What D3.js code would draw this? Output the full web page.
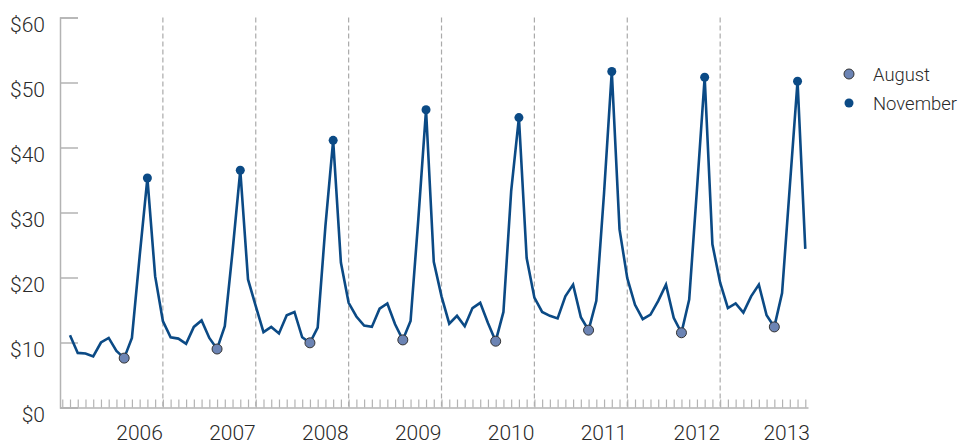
<!DOCTYPE html>
<html>
<head>
<meta charset="utf-8">
<script src="https://cdn.jsdelivr.net/npm/d3@7"></script>
<style>
  body { margin: 0; background: #fff; }
  svg text { font-family: Roboto, "Liberation Sans", sans-serif; fill: #2a2a2a; }
</style>
</head>
<body>
<div id="container"></div>
<script>
/* CONSTANTS AND GLOBALS */
const width = 961,
  height = 444;

// monthly values, Jan of first year .. Dec of last year
const monthlyPrice = [
  11.1, 8.4, 8.3, 7.85, 10.0, 10.7, 8.7, 7.6, 10.7, 23.3, 35.3, 20.2,
  13.3, 10.8, 10.6, 9.8, 12.4, 13.4, 10.7, 9.0, 12.5, 24.0, 36.5, 19.7,
  15.6, 11.6, 12.4, 11.4, 14.2, 14.7, 10.8, 9.95, 12.3, 27.9, 41.1, 22.3,
  16.1, 14.0, 12.6, 12.4, 15.2, 16.0, 12.8, 10.4, 13.3, 28.9, 45.8, 22.4,
  17.1, 12.9, 14.1, 12.5, 15.3, 16.1, 13.0, 10.2, 14.7, 33.3, 44.6, 23.0,
  16.9, 14.7, 14.1, 13.7, 17.1, 18.9, 13.9, 11.9, 16.4, 33.0, 51.7, 27.4,
  19.9, 15.8, 13.6, 14.3, 16.4, 18.9, 13.8, 11.5, 16.6, 33.5, 50.8, 25.1,
  19.2, 15.3, 16.0, 14.6, 17.1, 18.9, 14.2, 12.4, 17.6, 34.0, 50.2, 24.4
];
const yearLabels = ["2006", "2007", "2008", "2009", "2010", "2011", "2012", "2013"];
const yTicks = [0, 10, 20, 30, 40, 50, 60];
const legendItems = ["August", "November"];
const augustMonth = 7, novemberMonth = 10;

const lineColor = "#0b4a85",
  augustFill = "#6c84b4",
  axisColor = "#b3b3b3";

const data = monthlyPrice.map((v, i) => ({ i, v }));
const augustPts = data.filter(d => d.i % 12 === augustMonth);
const novemberPts = data.filter(d => d.i % 12 === novemberMonth);

const svg = d3.select("#container")
  .append("svg")
  .attr("width", width)
  .attr("height", height);

// SCALES
const xScale = d3.scaleLinear()
  .domain([-1.292, 95.35])
  .range([60, 808]);

const yScale = d3.scaleLinear()
  .domain([0, 60])
  .range([407.5, 17.5]);

// year divider lines
svg.selectAll(".divider")
  .data(d3.range(12, 96, 12))
  .join("line")
  .attr("class", "divider")
  .attr("x1", d => xScale(d))
  .attr("x2", d => xScale(d))
  .attr("y1", yScale(60))
  .attr("y2", yScale(0))
  .attr("stroke", "#aaa")
  .attr("stroke-width", 1.2)
  .attr("stroke-dasharray", "5,3");

// Y AXIS
const yAxis = d3.axisRight(yScale)
  .tickValues(yTicks)
  .tickSize(18)
  .tickFormat(d => "$" + d);

const yAxisGroup = svg.append("g")
  .attr("transform", `translate(60, 0)`)
  .call(yAxis);
yAxisGroup.select(".domain").attr("stroke", axisColor).attr("stroke-width", 1.5);
yAxisGroup.selectAll(".tick line").attr("stroke", axisColor).attr("stroke-width", 1.5);
yAxisGroup.selectAll(".tick text")
  .attr("x", -15)
  .attr("dy", "0.32em")
  .attr("y", 7)
  .attr("text-anchor", "end")
  .style("font-size", "21px")
  .style("font-weight", 300);

// X AXIS (monthly minor ticks)
const xAxis = d3.axisBottom(xScale)
  .tickValues(d3.range(-1, 96))
  .tickSizeInner(-8)
  .tickSizeOuter(0)
  .tickFormat("");

const xAxisGroup = svg.append("g")
  .attr("transform", `translate(0, ${yScale(0)})`)
  .call(xAxis);
xAxisGroup.select(".domain").attr("stroke", axisColor).attr("stroke-width", 1.5);
xAxisGroup.selectAll(".tick line").attr("stroke", axisColor).attr("stroke-width", 1.2);

svg.selectAll(".yearLabel")
  .data(yearLabels)
  .join("text")
  .attr("class", "yearLabel")
  .attr("x", (d, k) => Math.min(xScale(12 * (k + 1)), 810))
  .attr("y", 440)
  .attr("text-anchor", "end")
  .style("font-size", "21px")
  .style("font-weight", 300)
  .text(d => d);

// LINE
const lineGen = d3.line()
  .x(d => xScale(d.i))
  .y(d => yScale(d.v));

svg.append("path")
  .datum(data)
  .attr("fill", "none")
  .attr("stroke", lineColor)
  .attr("stroke-width", 2.6)
  .attr("stroke-linejoin", "miter")
  .attr("d", lineGen);

// MARKERS
svg.selectAll(".aug")
  .data(augustPts)
  .join("circle")
  .attr("class", "aug")
  .attr("cx", d => xScale(d.i))
  .attr("cy", d => yScale(d.v))
  .attr("r", 5)
  .attr("fill", augustFill)
  .attr("stroke", "#333")
  .attr("stroke-width", 1);

svg.selectAll(".nov")
  .data(novemberPts)
  .join("circle")
  .attr("class", "nov")
  .attr("cx", d => xScale(d.i))
  .attr("cy", d => yScale(d.v))
  .attr("r", 4.5)
  .attr("fill", lineColor);

// LEGEND
const legend = svg.selectAll(".legend")
  .data(legendItems)
  .join("g")
  .attr("class", "legend")
  .attr("transform", (d, k) => `translate(849, ${74 + k * 29})`);

legend.append("circle")
  .attr("r", d => d === "August" ? 5 : 4.5)
  .attr("fill", d => d === "August" ? augustFill : lineColor)
  .attr("stroke", d => d === "August" ? "#333" : "none")
  .attr("stroke-width", 1);

// reference font is condensed, so squeeze the labels to its widths
legend.append("text")
  .attr("x", 24)
  .attr("dy", "0.36em")
  .attr("textLength", d => d === "August" ? 57 : 84)
  .attr("lengthAdjust", "spacingAndGlyphs")
  .style("font-size", "19px")
  .style("font-weight", 300)
  .text(d => d);
</script>
</body>
</html>
